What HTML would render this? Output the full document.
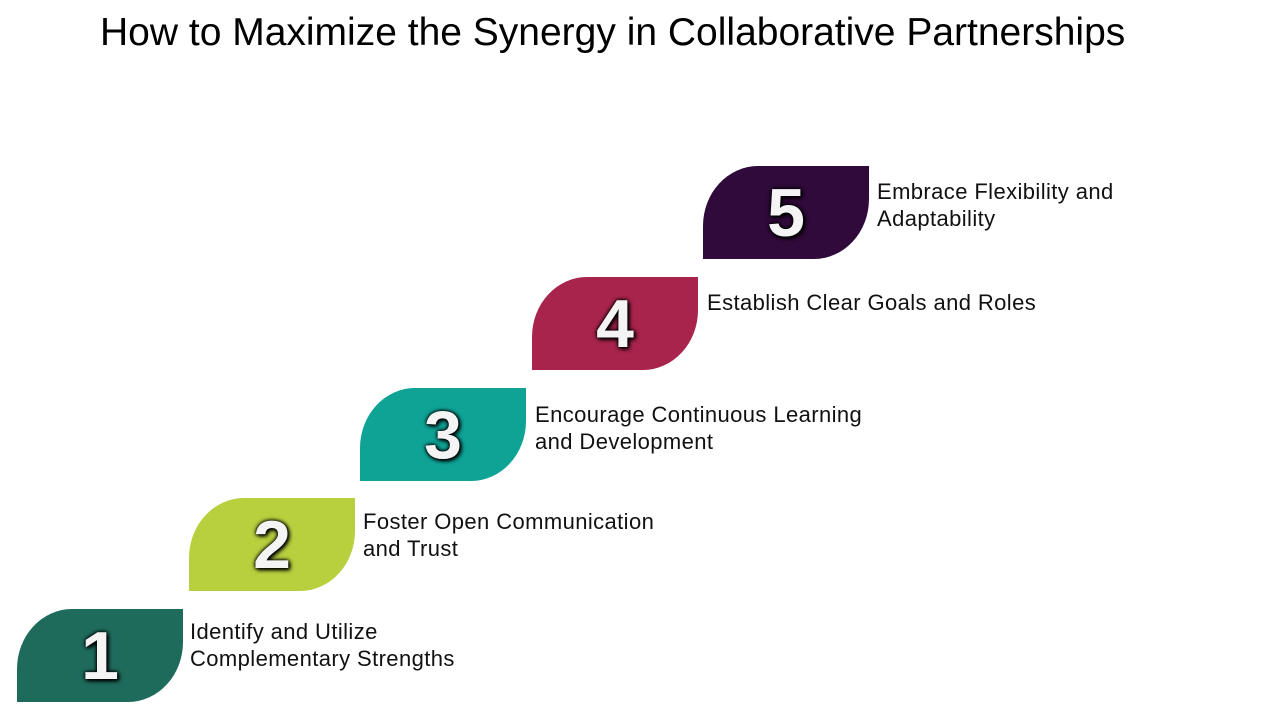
<!DOCTYPE html>
<html><head><meta charset="utf-8"><style>
body{margin:0;width:1280px;height:720px;background:#fff;position:relative;overflow:hidden;font-family:"Liberation Sans",sans-serif}
.t{position:absolute;left:100px;top:11px;font-size:39px;color:#000;white-space:nowrap}
.s{position:absolute;width:166px;height:93px;border-radius:55px 0 55px 0/60px 0 60px 0;display:flex;align-items:center;justify-content:center;color:#f4f4f4;font-weight:bold;font-size:68px;text-shadow:0 0 3px #000,0 0 5px #000,2px 2px 4px #000}
.l{position:absolute;font-size:22px;letter-spacing:0.4px;line-height:27px;color:#111;white-space:nowrap}
</style></head><body>
<div class="t">How to Maximize the Synergy in Collaborative Partnerships</div>
<div class="s" style="left:17px;top:609px;background:#1e6b5c">1</div>
<div class="s" style="left:189px;top:498px;background:#b8cf3e">2</div>
<div class="s" style="left:360px;top:388px;background:#0fa396">3</div>
<div class="s" style="left:532px;top:277px;background:#a8244c">4</div>
<div class="s" style="left:703px;top:166px;background:#300a3a">5</div>
<div class="l" style="left:190px;top:618px">Identify and Utilize<br>Complementary Strengths</div>
<div class="l" style="left:363px;top:508px">Foster Open Communication<br>and Trust</div>
<div class="l" style="left:535px;top:401px">Encourage Continuous Learning<br>and Development</div>
<div class="l" style="left:707px;top:289px">Establish Clear Goals and Roles</div>
<div class="l" style="left:877px;top:178px">Embrace Flexibility and<br>Adaptability</div>
</body></html>
